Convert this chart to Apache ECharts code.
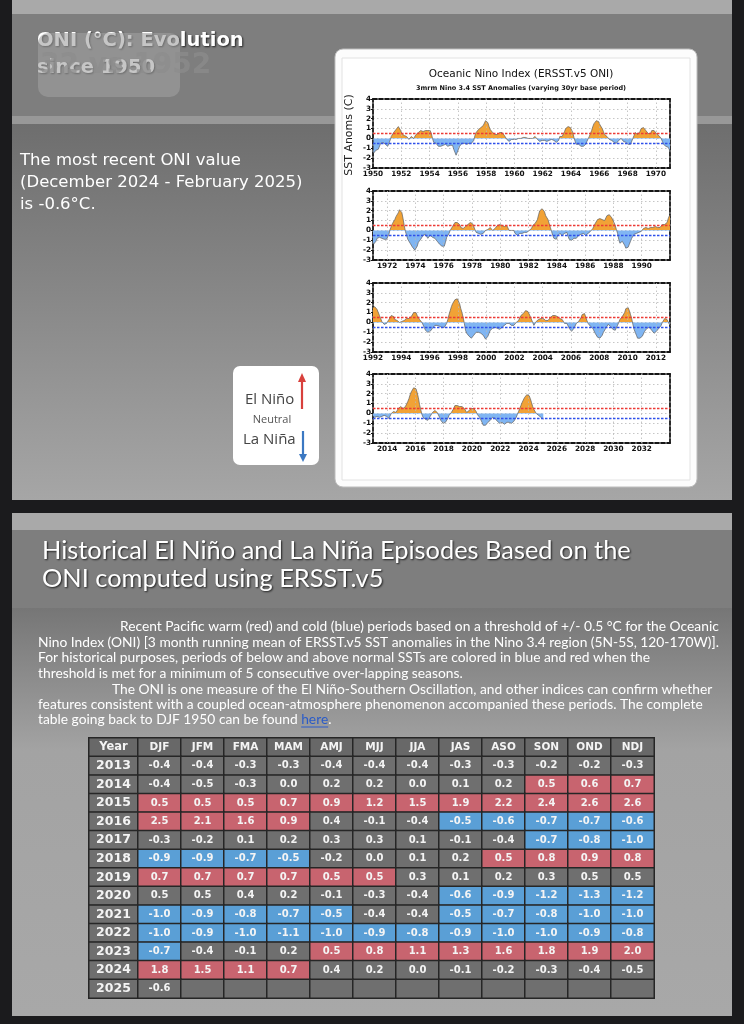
<!DOCTYPE html>
<html><head><meta charset="utf-8">
<script src="https://cdn.jsdelivr.net/npm/echarts@6/dist/echarts.min.js"></script>
<style>html,body{margin:0;padding:0;background:#1b1b1d;}#c{width:744px;height:1024px;}</style>
</head><body><div id="c"></div>
<script>
const seasons = ['DJF','JFM','FMA','MAM','AMJ','MJJ','JJA','JAS','ASO','SON','OND','NDJ'];
const decadeStarts = [1950,1960,1970,1980,1990,2000,2010,2020];
const oni1950s = [
 [-1.5,-1.3,-1.2,-1.2,-1.1,-0.9,-0.5,-0.4,-0.4,-0.4,-0.6,-0.8],
 [-0.8,-0.5,-0.2,0.2,0.4,0.6,0.7,0.9,1.0,1.2,1.0,0.8],
 [0.5,0.4,0.3,0.3,0.2,0.0,-0.1,0.0,0.2,0.1,0.0,0.1],
 [0.4,0.6,0.6,0.7,0.8,0.8,0.7,0.7,0.8,0.8,0.8,0.8],
 [0.8,0.5,0.0,-0.4,-0.5,-0.5,-0.6,-0.8,-0.9,-0.8,-0.7,-0.7],
 [-0.7,-0.6,-0.7,-0.8,-0.8,-0.7,-0.7,-0.7,-1.1,-1.4,-1.7,-1.5],
 [-1.1,-0.8,-0.6,-0.5,-0.5,-0.5,-0.5,-0.6,-0.5,-0.5,-0.5,-0.5],
 [-0.4,-0.2,0.3,0.6,0.7,0.9,1.0,1.1,1.2,1.3,1.5,1.8],
 [1.8,1.6,1.2,0.9,0.7,0.6,0.5,0.4,0.4,0.4,0.5,0.6],
 [0.6,0.6,0.5,0.3,0.2,-0.1,-0.2,-0.3,-0.1,-0.1,-0.1,-0.1]
];
const oni1960s = [
 [-0.1,-0.1,-0.1,0.0,0.0,0.0,0.1,0.1,0.2,0.1,0.0,0.0],
 [0.0,0.0,-0.1,0.0,0.1,0.2,0.1,-0.1,-0.3,-0.3,-0.2,-0.2],
 [-0.2,-0.2,-0.2,-0.3,-0.3,-0.2,0.0,-0.1,-0.1,-0.2,-0.3,-0.4],
 [-0.4,-0.2,0.2,0.2,0.2,0.4,0.7,1.0,1.1,1.2,1.2,1.1],
 [1.0,0.6,0.1,-0.3,-0.6,-0.6,-0.6,-0.7,-0.8,-0.8,-0.8,-0.8],
 [-0.6,-0.3,-0.1,0.2,0.5,0.8,1.2,1.5,1.7,1.8,1.9,1.7],
 [1.4,1.2,1.0,0.7,0.4,0.2,0.2,0.1,-0.1,-0.1,-0.2,-0.3],
 [-0.4,-0.5,-0.5,-0.4,-0.2,0.0,0.0,-0.2,-0.3,-0.4,-0.4,-0.5],
 [-0.6,-0.7,-0.6,-0.4,0.0,0.3,0.6,0.5,0.4,0.5,0.7,1.0],
 [1.1,1.1,0.9,0.8,0.6,0.5,0.4,0.5,0.8,0.9,0.8,0.6]
];
const oni1970s = [
 [0.5,0.3,0.3,0.2,0.0,-0.3,-0.6,-0.8,-0.8,-0.7,-0.9,-1.1],
 [-1.4,-1.4,-1.1,-0.8,-0.7,-0.7,-0.8,-0.8,-0.8,-0.9,-1.0,-0.9],
 [-0.7,-0.4,0.1,0.4,0.7,0.9,1.1,1.4,1.6,1.8,2.1,2.1],
 [1.8,1.2,0.5,-0.1,-0.5,-0.9,-1.1,-1.3,-1.5,-1.7,-1.9,-2.0],
 [-1.8,-1.6,-1.2,-1.0,-0.9,-0.8,-0.5,-0.4,-0.4,-0.6,-0.8,-0.6],
 [-0.5,-0.6,-0.7,-0.7,-0.8,-1.0,-1.1,-1.2,-1.4,-1.4,-1.6,-1.7],
 [-1.6,-1.2,-0.7,-0.5,-0.3,0.0,0.2,0.4,0.6,0.8,0.9,0.8],
 [0.6,0.6,0.3,0.2,0.2,0.3,0.4,0.4,0.6,0.7,0.8,0.8],
 [0.7,0.4,0.1,-0.2,-0.3,-0.3,-0.4,-0.4,-0.4,-0.3,-0.1,0.0],
 [0.0,0.1,0.2,0.3,0.2,0.0,0.0,0.2,0.3,0.5,0.5,0.6]
];
const oni1980s = [
 [0.6,0.5,0.3,0.4,0.5,0.5,0.3,0.0,-0.1,0.0,0.1,0.0],
 [-0.3,-0.5,-0.5,-0.4,-0.3,-0.3,-0.3,-0.2,-0.2,-0.1,-0.2,-0.1],
 [0.0,0.1,0.2,0.5,0.7,0.7,0.8,1.1,1.6,2.0,2.2,2.2],
 [2.2,1.9,1.5,1.3,1.1,0.7,0.3,-0.1,-0.5,-0.8,-1.0,-0.9],
 [-0.6,-0.4,-0.3,-0.4,-0.5,-0.4,-0.3,-0.2,-0.2,-0.6,-0.9,-1.1],
 [-1.0,-0.8,-0.8,-0.8,-0.8,-0.6,-0.5,-0.5,-0.4,-0.3,-0.3,-0.4],
 [-0.5,-0.5,-0.3,-0.2,-0.1,0.0,0.2,0.4,0.7,0.9,1.1,1.2],
 [1.2,1.2,1.1,0.9,1.0,1.2,1.5,1.7,1.6,1.5,1.3,1.1],
 [0.8,0.5,0.1,-0.3,-0.9,-1.3,-1.3,-1.1,-1.2,-1.5,-1.8,-1.8],
 [-1.7,-1.4,-1.1,-0.8,-0.6,-0.4,-0.3,-0.3,-0.2,-0.2,-0.2,-0.1]
];
const oni1990s = [
 [0.1,0.2,0.3,0.3,0.2,0.2,0.3,0.3,0.4,0.3,0.4,0.4],
 [0.4,0.3,0.2,0.3,0.5,0.6,0.7,0.6,0.6,0.8,1.2,1.5],
 [1.7,1.6,1.5,1.3,1.1,0.7,0.4,0.1,-0.1,-0.2,-0.3,-0.1],
 [0.1,0.3,0.5,0.7,0.7,0.6,0.3,0.3,0.2,0.1,0.0,0.1],
 [0.1,0.1,0.2,0.3,0.4,0.4,0.4,0.4,0.6,0.7,1.0,1.1],
 [1.0,0.7,0.5,0.3,0.1,0.0,-0.2,-0.5,-0.8,-1.0,-1.0,-1.0],
 [-0.9,-0.8,-0.6,-0.4,-0.3,-0.3,-0.3,-0.3,-0.4,-0.4,-0.5,-0.5],
 [-0.5,-0.4,-0.1,0.3,0.8,1.2,1.6,1.9,2.1,2.3,2.4,2.4],
 [2.2,1.9,1.4,1.0,0.5,-0.1,-0.8,-1.1,-1.3,-1.4,-1.5,-1.6],
 [-1.5,-1.3,-1.1,-1.0,-1.0,-1.0,-1.1,-1.1,-1.2,-1.3,-1.5,-1.7]
];
const oni2000s = [
 [-1.7,-1.4,-1.1,-0.8,-0.7,-0.6,-0.6,-0.5,-0.5,-0.6,-0.7,-0.7],
 [-0.7,-0.5,-0.4,-0.3,-0.3,-0.1,-0.1,-0.1,-0.2,-0.3,-0.3,-0.3],
 [-0.1,0.0,0.1,0.2,0.4,0.7,0.8,0.9,1.0,1.2,1.3,1.1],
 [0.9,0.6,0.4,0.0,-0.3,-0.2,0.1,0.2,0.3,0.3,0.4,0.4],
 [0.4,0.3,0.2,0.2,0.2,0.3,0.5,0.6,0.7,0.7,0.7,0.7],
 [0.6,0.6,0.4,0.4,0.3,0.1,-0.1,-0.1,-0.1,-0.3,-0.6,-0.8],
 [-0.9,-0.8,-0.6,-0.4,-0.1,0.0,0.1,0.3,0.5,0.8,0.9,0.9],
 [0.7,0.2,-0.1,-0.3,-0.4,-0.5,-0.6,-0.8,-1.1,-1.3,-1.5,-1.6],
 [-1.6,-1.5,-1.3,-1.0,-0.8,-0.6,-0.4,-0.2,-0.2,-0.4,-0.6,-0.7],
 [-0.8,-0.8,-0.6,-0.3,0.0,0.3,0.5,0.6,0.7,1.0,1.4,1.6]
];
const oni2010s = [
 [1.5,1.2,0.8,0.4,-0.2,-0.7,-1.0,-1.3,-1.6,-1.6,-1.6,-1.6],
 [-1.4,-1.2,-0.9,-0.7,-0.6,-0.4,-0.5,-0.6,-0.8,-1.0,-1.1,-1.0],
 [-0.9,-0.7,-0.6,-0.5,-0.3,0.0,0.2,0.4,0.4,0.3,0.1,-0.2],
 [-0.4,-0.4,-0.3,-0.3,-0.4,-0.4,-0.4,-0.3,-0.3,-0.2,-0.2,-0.3],
 [-0.4,-0.5,-0.3,0.0,0.2,0.2,0.0,0.1,0.2,0.5,0.6,0.7],
 [0.5,0.5,0.5,0.7,0.9,1.2,1.5,1.9,2.2,2.4,2.6,2.6],
 [2.5,2.1,1.6,0.9,0.4,-0.1,-0.4,-0.5,-0.6,-0.7,-0.7,-0.6],
 [-0.3,-0.2,0.1,0.2,0.3,0.3,0.1,-0.1,-0.4,-0.7,-0.8,-1.0],
 [-0.9,-0.9,-0.7,-0.5,-0.2,0.0,0.1,0.2,0.5,0.8,0.9,0.8],
 [0.7,0.7,0.7,0.7,0.5,0.5,0.3,0.1,0.2,0.3,0.5,0.5]
];
const oni2020s = [
 [0.5,0.5,0.4,0.2,-0.1,-0.3,-0.4,-0.6,-0.9,-1.2,-1.3,-1.2],
 [-1.0,-0.9,-0.8,-0.7,-0.5,-0.4,-0.4,-0.5,-0.7,-0.8,-1.0,-1.0],
 [-1.0,-0.9,-1.0,-1.1,-1.0,-0.9,-0.8,-0.9,-1.0,-1.0,-0.9,-0.8],
 [-0.7,-0.4,-0.1,0.2,0.5,0.8,1.1,1.3,1.6,1.8,1.9,2.0],
 [1.8,1.5,1.1,0.7,0.4,0.2,0.0,-0.1,-0.2,-0.3,-0.4,-0.5],
 [-0.6]
];
const panelStarts = [1950, 1971, 1992, 2013];
const panelSpan = 21;
const tableYears = [2013,2014,2015,2016,2017,2018,2019,2020,2021,2022,2023,2024,2025];
const thresholdWarm = 0.5, thresholdCold = -0.5;

const decades = [oni1950s,oni1960s,oni1970s,oni1980s,oni1990s,oni2000s,oni2010s,oni2020s];
const flat = [];
decades.forEach((rows,d)=>rows.forEach((vals,r)=>vals.forEach((v,i)=>flat.push({year:decadeStarts[d]+r,i:i,v:v}))));
const flag = flat.map(()=>0);
function mark(test, code){
  let run = 0;
  for (let k=0;k<=flat.length;k++){
    if (k<flat.length && test(flat[k].v)) { run++; continue; }
    if (run>=5) for (let j=k-run;j<k;j++) flag[j]=code;
    run = 0;
  }
}
mark(v=>v>=thresholdWarm-1e-9, 1);
mark(v=>v<=thresholdCold+1e-9, -1);
const pts = flat.map(p=>[p.year+(p.i+0.5)/12, p.v]);

const gridTops = [99,191,283,374];
const grids = [], xAxes = [], yAxes = [], series = [];
const dashed = {color:'#151515', width:1.8, type:[4,2]};
panelStarts.forEach((s,k)=>{
  grids.push({left:373, width:297, top:gridTops[k], height:69});
  xAxes.push({gridIndex:k, type:'value', min:s, max:s+panelSpan, interval:1, position:'bottom',
    axisLine:{onZero:false, lineStyle:dashed}, axisTick:{show:false}, splitLine:{show:false},
    axisLabel:{formatter:v=>(v%2===0 && v<s+panelSpan)?String(v):'', fontSize:7.3, fontWeight:'bold', color:'#111', margin:3, fontFamily:'DejaVu Sans'}});
  xAxes.push({gridIndex:k, type:'value', min:s, max:s+panelSpan, position:'top',
    axisLine:{onZero:false, lineStyle:dashed}, axisTick:{show:false}, axisLabel:{show:false}, splitLine:{show:false}});
  yAxes.push({gridIndex:k, type:'value', min:-3, max:4, interval:1, position:'left',
    axisLine:{onZero:false, lineStyle:dashed}, axisTick:{show:true, length:2, lineStyle:{color:'#111'}},
    axisLabel:{fontSize:7.3, fontWeight:'bold', color:'#111', margin:2, fontFamily:'DejaVu Sans'},
    splitLine:{show:true, lineStyle:{color:'#b8b8b8', type:[1.5,2.5], width:0.8}}});
  yAxes.push({gridIndex:k, type:'value', min:-3, max:4, position:'right',
    axisLine:{onZero:false, lineStyle:dashed}, axisTick:{show:false}, axisLabel:{show:false}, splitLine:{show:false}});
  const data = pts.filter(p=>p[0]>=s-0.2 && p[0]<=s+panelSpan+0.2);
  const evens = [];
  for (let y=s+1;y<s+panelSpan;y++) if (y%2===0) evens.push({xAxis:y});
  series.push({type:'line', xAxisIndex:2*k, yAxisIndex:2*k, data:[[s,0]], symbol:'none', lineStyle:{width:0}, z:1, silent:true,
    markLine:{symbol:'none', silent:true, label:{show:false}, lineStyle:{color:'#b8b8b8', type:[1.5,2.5], width:0.8}, data:evens}});
  series.push({type:'line', xAxisIndex:2*k, yAxisIndex:2*k, data:data, symbol:'none', showSymbol:false, lineStyle:{width:0}, areaStyle:{opacity:1}, z:2, silent:true});
  series.push({type:'line', xAxisIndex:2*k, yAxisIndex:2*k, data:data, symbol:'none', showSymbol:false, lineStyle:{color:'#5e5e5e', width:0.7}, z:3, silent:true,
    markLine:{symbol:'none', silent:true, label:{show:false}, data:[
      {yAxis:thresholdWarm, lineStyle:{color:'#ec3b36', type:[2.5,1.5], width:1.3}},
      {yAxis:thresholdCold, lineStyle:{color:'#2f50ea', type:[2.5,1.5], width:1.3}}]}});
});
const areaIdx = panelStarts.map((s,k)=>3*k+1);

// table
const rowNames = ['Year'].concat(tableYears.map(String));
grids.push({left:89, width:49, top:738, height:260});
grids.push({left:138, width:516, top:738, height:260});
const tX0 = xAxes.length, tY0 = yAxes.length;
xAxes.push({gridIndex:4, type:'category', data:['Year'], show:false});
yAxes.push({gridIndex:4, type:'category', data:rowNames, inverse:true, show:false});
xAxes.push({gridIndex:5, type:'category', data:seasons, show:false});
yAxes.push({gridIndex:5, type:'category', data:rowNames, inverse:true, show:false});
const colGray = '#6f6f6f', colRed = '#c8646f', colBlue = '#5a9fd6', colHead = '#686868';
const yearCells = rowNames.map((n,r)=>({value:[0,r,0], txt:n, itemStyle:{color: r===0?colHead:colGray},
  label:{fontSize: r===0?11.5:12.5}}));
const seasonCells = [];
seasons.forEach((sn,c)=>seasonCells.push({value:[c,0,0], txt:sn, itemStyle:{color:colHead}, label:{fontSize:10.5}}));
tableYears.forEach((yr,r)=>{
  seasons.forEach((sn,c)=>{
    const idx = flat.findIndex(p=>p.year===yr && p.i===c);
    let txt = '', color = colGray;
    if (idx>=0) {
      txt = flat[idx].v.toFixed(1);
      color = flag[idx]===1?colRed:(flag[idx]===-1?colBlue:colGray);
    }
    seasonCells.push({value:[c,r+1,0], txt:txt, itemStyle:{color:color}});
  });
});
const cellLabel = {show:true, formatter:p=>p.data.txt, color:'#f4f4f4', fontWeight:'bold', fontSize:10, fontFamily:'DejaVu Sans'};
series.push({type:'heatmap', xAxisIndex:tX0, yAxisIndex:tY0, data:yearCells, label:cellLabel, itemStyle:{borderColor:'#262626', borderWidth:1.5}, silent:true, z:5});
series.push({type:'heatmap', xAxisIndex:tX0+1, yAxisIndex:tY0+1, data:seasonCells, label:cellLabel, itemStyle:{borderColor:'#262626', borderWidth:1.5}, silent:true, z:5});

// graphics
const LG = (stops)=>new echarts.graphic.LinearGradient(0,0,0,1,stops);
const shadowT = {textShadowColor:'rgba(0,0,0,0.75)', textShadowBlur:2, textShadowOffsetX:1, textShadowOffsetY:1};
const para = [
  {x:120, y:627, t:'Recent Pacific warm (red) and cold (blue) periods based on a threshold of +/- 0.5 °C for the Oceanic'},
  {x:38, y:643, t:'Nino Index (ONI) [3 month running mean of ERSST.v5 SST anomalies in the Nino 3.4 region (5N-5S, 120-170W)].'},
  {x:38, y:658, t:'For historical purposes, periods of below and above normal SSTs are colored in blue and red when the'},
  {x:38, y:674, t:'threshold is met for a minimum of 5 consecutive over-lapping seasons.'},
  {x:112, y:690, t:'The ONI is one measure of the El Niño-Southern Oscillation, and other indices can confirm whether'},
  {x:38, y:705, t:'features consistent with a coupled ocean-atmosphere phenomenon accompanied these periods. The complete'}
];
const paraFont = '13.8px Lato';
const lastA = 'table going back to DJF 1950 can be found ';
const mctx = document.createElement('canvas').getContext('2d');
mctx.font = paraFont;
const hereX = 38 + mctx.measureText(lastA).width;
const hereW = mctx.measureText('here').width;
const graphics = [
  {type:'rect', shape:{x:0,y:0,width:744,height:1024}, style:{fill:'#1b1b1d'}, z:-10, silent:true},
  {type:'rect', shape:{x:12,y:0,width:720,height:14}, style:{fill:'#a9a9a9'}, z:-9},
  {type:'rect', shape:{x:12,y:14,width:720,height:102}, style:{fill:'#7e7e7e'}, z:-9},
  {type:'rect', shape:{x:12,y:116,width:720,height:8}, style:{fill:'#989898'}, z:-9},
  {type:'rect', shape:{x:12,y:124,width:720,height:376}, style:{fill:LG([{offset:0,color:'#6e6e6e'},{offset:1,color:'#a6a6a6'}])}, z:-9},
  {type:'rect', shape:{x:12,y:513,width:720,height:17}, style:{fill:'#a9a9a9'}, z:-9},
  {type:'rect', shape:{x:12,y:530,width:720,height:78}, style:{fill:'#7e7e7e'}, z:-9},
  {type:'rect', shape:{x:12,y:608,width:720,height:408}, style:{fill:LG([{offset:0,color:'#767676'},{offset:0.35,color:'#a3a3a3'},{offset:1,color:'#a8a8a8'}])}, z:-9},
  {type:'rect', shape:{x:335,y:49,width:362,height:438,r:8}, style:{fill:'#fcfcfc', stroke:'#bdbdbd', lineWidth:1}, z:-8},
  {type:'rect', shape:{x:342,y:58,width:348,height:422}, style:{fill:'#ffffff', stroke:'#e2e2e2', lineWidth:1}, z:-8},
  {type:'text', x:521, y:74, style:{text:'Oceanic Nino Index (ERSST.v5 ONI)', font:'10.5px "DejaVu Sans"', fill:'#111', align:'center', verticalAlign:'middle'}, z:10},
  {type:'text', x:521, y:88, style:{text:'3mrm Nino 3.4 SST Anomalies (varying 30yr base period)', font:'bold 6.5px "DejaVu Sans"', fill:'#111', align:'center', verticalAlign:'middle'}, z:10},
  {type:'text', x:349, y:135, rotation:Math.PI/2, style:{text:'SST Anoms (C)', font:'11px "DejaVu Sans"', fill:'#222', align:'center', verticalAlign:'middle'}, z:10},
  {type:'text', x:37, y:41, style:Object.assign({text:'ONI (°C): Evolution', font:'bold 19.5px "DejaVu Sans"', fill:'#ffffff', verticalAlign:'middle'}, shadowT), z:10},
  {type:'text', x:37, y:68, style:Object.assign({text:'since 1950', font:'bold 19.5px "DejaVu Sans"', fill:'#ffffff', verticalAlign:'middle'}, shadowT), z:10},
  {type:'rect', shape:{x:38,y:33,width:142,height:64,r:10}, style:{fill:'rgba(160,160,160,0.6)'}, z:11},
  {type:'text', x:40, y:66, style:{text:'32 vs 1952', font:'bold 28px "DejaVu Sans"', fill:'rgba(140,140,140,0.75)', verticalAlign:'middle'}, z:12},
  {type:'text', x:20, y:161, style:{text:'The most recent ONI value', font:'16.5px "DejaVu Sans"', fill:'#ffffff', verticalAlign:'middle'}, z:10},
  {type:'text', x:20, y:183, style:{text:'(December 2024 - February 2025)', font:'16.5px "DejaVu Sans"', fill:'#ffffff', verticalAlign:'middle'}, z:10},
  {type:'text', x:20, y:205, style:{text:'is -0.6°C.', font:'16.5px "DejaVu Sans"', fill:'#ffffff', verticalAlign:'middle'}, z:10},
  {type:'rect', shape:{x:233,y:366,width:86,height:99,r:7}, style:{fill:'#ffffff'}, z:10},
  {type:'text', x:245, y:400, style:{text:'El Niño', font:'15px "Open Sans"', fill:'#444', verticalAlign:'middle'}, z:11},
  {type:'text', x:272, y:420, style:{text:'Neutral', font:'11px "Open Sans"', fill:'#555', align:'center', verticalAlign:'middle'}, z:11},
  {type:'text', x:243, y:440, style:{text:'La Niña', font:'15px "Open Sans"', fill:'#444', verticalAlign:'middle'}, z:11},
  {type:'line', shape:{x1:302,y1:409,x2:302,y2:380}, style:{stroke:'#d8403c', lineWidth:2.2}, z:11},
  {type:'polygon', shape:{points:[[298,382],[306,382],[302,373]]}, style:{fill:'#d8403c'}, z:11},
  {type:'line', shape:{x1:303,y1:431,x2:303,y2:456}, style:{stroke:'#3b78c2', lineWidth:2.2}, z:11},
  {type:'polygon', shape:{points:[[299,454],[307,454],[303,462]]}, style:{fill:'#3b78c2'}, z:11},
  {type:'text', x:42, y:551, style:Object.assign({text:'Historical El Niño and La Niña Episodes Based on the', font:'25.4px Lato', fill:'#ffffff', verticalAlign:'middle'}, shadowT), z:10},
  {type:'text', x:42, y:579, style:Object.assign({text:'ONI computed using ERSST.v5', font:'25.4px Lato', fill:'#ffffff', verticalAlign:'middle'}, shadowT), z:10}
];
para.forEach(p=>graphics.push({type:'text', x:p.x, y:p.y, style:{text:p.t, font:paraFont, fill:'#ffffff', verticalAlign:'middle'}, z:10}));
graphics.push({type:'text', x:38, y:720, style:{text:'{a|'+lastA+'}{h|here}{a|.}', font:paraFont, verticalAlign:'middle',
  rich:{a:{fill:'#ffffff', font:paraFont}, h:{fill:'#2a5bc8', font:paraFont}}}, z:10});
graphics.push({type:'line', shape:{x1:hereX, y1:727, x2:hereX+hereW, y2:727}, style:{stroke:'#2a5bc8', lineWidth:1}, z:10});

const chart = echarts.init(document.getElementById('c'), null, {renderer:'canvas'});
chart.setOption({
  animation:false,
  backgroundColor:'#1b1b1d',
  grid:grids, xAxis:xAxes, yAxis:yAxes,
  visualMap:[{show:false, type:'piecewise', seriesIndex:areaIdx, dimension:1,
    pieces:[{gt:0, lte:10, color:'#f1a236'},{gt:-10, lte:0, color:'#80b5f2'}]}],
  series:series,
  graphic:{elements:graphics}
});
</script></body></html>
